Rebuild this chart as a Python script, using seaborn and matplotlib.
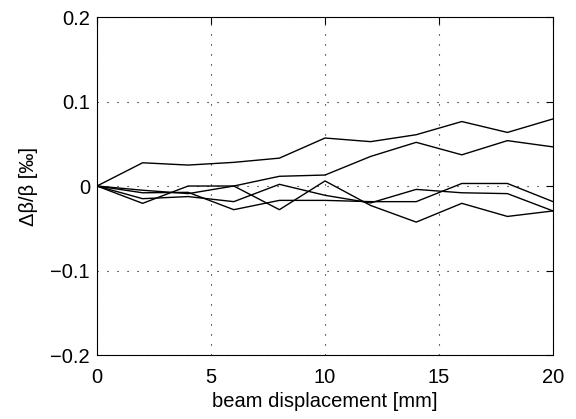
import numpy as np
import pandas as pd
import seaborn as sns
import matplotlib.pyplot as plt

sns.set_style("white")
plt.rcParams['font.family'] = ['Liberation Sans', 'DejaVu Sans']

displacement = [0, 2, 4, 6, 8, 10, 12, 14, 16, 18, 20]
run_a = [0, 0.0275, 0.0248, 0.028, 0.033, 0.0568, 0.0525, 0.0607, 0.0763, 0.0634, 0.0794]
run_b = [0, -0.0205, 0.0, 0.0, 0.0115, 0.013, 0.035, 0.0517, 0.0369, 0.0537, 0.0463]
run_c = [0, -0.005, -0.009, 0.0, -0.028, 0.006, -0.023, -0.0427, -0.0205, -0.036, -0.0295]
run_d = [0, -0.015, -0.0125, -0.0185, 0.002, -0.011, -0.020, -0.004, -0.008, -0.009, -0.0295]
run_e = [0, -0.008, -0.0075, -0.028, -0.017, -0.017, -0.0185, -0.0185, 0.003, 0.003, -0.0185]

runs = {'a': run_a, 'b': run_b, 'c': run_c, 'd': run_d, 'e': run_e}
df = pd.concat([pd.DataFrame({'x': displacement, 'y': v, 'run': k}) for k, v in runs.items()])

fig = plt.figure(figsize=(5.76, 4.19), dpi=100)
ax = fig.add_axes([0.1684, 0.1527, 0.7917, 0.8067])
sns.lineplot(data=df, x='x', y='y', hue='run', palette=['black'] * 5,
             linewidth=1.0, legend=False, ax=ax)

ax.set_xlim(0, 20)
ax.set_ylim(-0.2, 0.2)
ax.set_xticks([0, 5, 10, 15, 20])
ax.set_yticks([-0.2, -0.1, 0, 0.1, 0.2])
ax.set_yticklabels(['\u22120.2', '\u22120.1', '0', '0.1', '0.2'])
ax.grid(True, linestyle=(0, (1, 8)), color='black', linewidth=0.8)
ax.tick_params(direction='in', length=5, width=0.8, top=True, right=True,
               labelsize=14.5, colors='black')
ax.tick_params(axis='x', pad=9)
ax.tick_params(axis='y', pad=5)
for s in ax.spines.values():
    s.set_color('black')
    s.set_linewidth(0.8)
ax.set_xlabel('beam displacement [mm]', fontsize=14.5, labelpad=4, color='black')
ax.set_ylabel('\u0394\u03b2/\u03b2 [\u2030]', fontsize=14.5, labelpad=9, color='black')

fig.savefig('out.png', dpi=100)
